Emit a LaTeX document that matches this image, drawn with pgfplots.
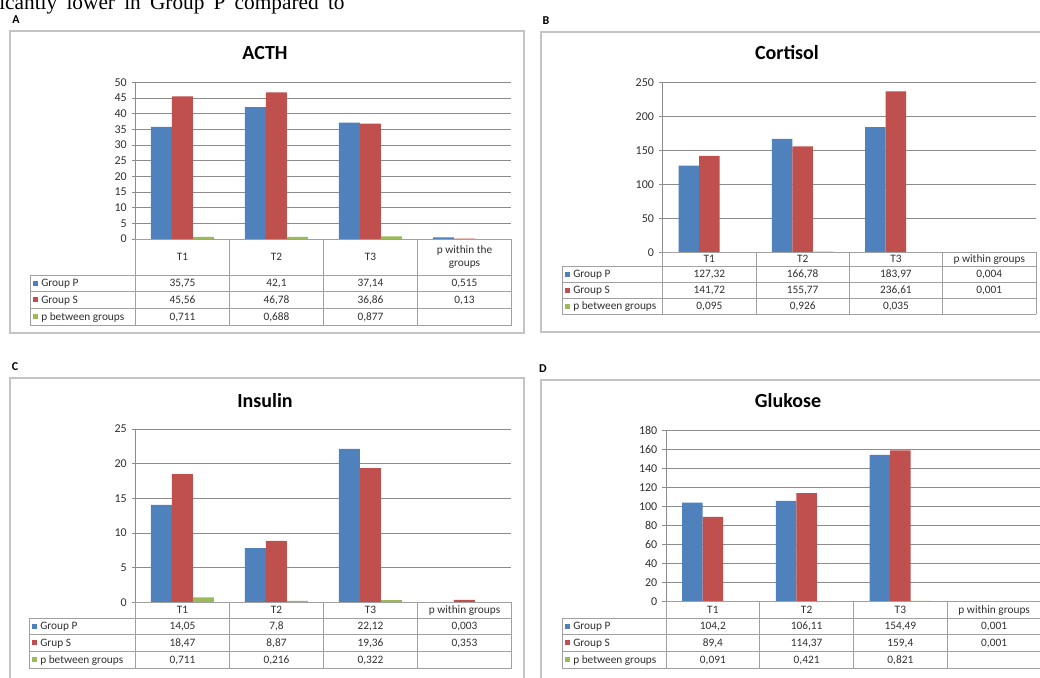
\documentclass[border=0pt]{standalone}
\usepackage{pgfplots}
\pgfplotsset{compat=1.18}
\usepackage{fontspec}
\setmainfont{Carlito}
\newfontfamily\serif{Liberation Serif}
\definecolor{cP}{HTML}{4F81BD}
\definecolor{cS}{HTML}{C0504D}
\definecolor{cB}{HTML}{9BBB59}
\definecolor{gridc}{HTML}{8C8C8C}
\definecolor{boxc}{HTML}{C4C4C4}
\definecolor{tabc}{HTML}{A0A0A0}
\definecolor{txt}{HTML}{303030}
\newcommand{\tabfont}{\fontsize{8.5}{10}\selectfont}

\pgfplotsset{
  panel/.style={
    scale only axis, ybar=0pt, anchor=south west,
    xmin=-0.5, xmax=3.5, ymin=0,
    axis x line=none,
    axis y line*=left,
    y axis line style={-, gridc, line width=0.6pt},
    ymajorgrids, grid style={gridc, line width=0.6pt},
    ytick style={gridc, line width=0.6pt}, major tick length=3pt, tick align=outside,
    xtick=\empty,
    yticklabel style={font=\fontsize{9}{10}\selectfont, text=txt},
    /pgf/number format/assume math mode=true,
    clip=false,
  }
}

% table grid: #1 label-left x, #2 col0 x, #3 col width, #4 top y, #5 header bottom, #6 row1 bottom, #7 row2 bottom, #8 table bottom
\newcommand{\tabgrid}[8]{%
  \draw[tabc, line width=0.6pt] (#2,#4) -- ({#2+4*#3},#4);
  \foreach \k in {0,...,4}{\draw[tabc, line width=0.6pt] ({#2+\k*#3},#4) -- ({#2+\k*#3},#8);}
  \draw[tabc, line width=0.6pt] (#1,#5) -- (#1,#8);
  \foreach \yy in {#5,#6,#7,#8}{\draw[tabc, line width=0.6pt] (#1,\yy) -- ({#2+4*#3},\yy);}
}
% row label: #1 x, #2 y (row centre), #3 colour, #4 text
\newcommand{\rowlab}[4]{%
  \fill[#3] (#1,{#2-2.5}) rectangle ++(5,5);
  \node[anchor=base west, inner sep=0pt, font=\tabfont, text=txt] at ({#1+8},{#2+3.6}) {#4};
}
% row values: #1 col0, #2 colw, #3 y (row centre), #4..#7 texts
\newcommand{\rowvals}[7]{%
  \node[anchor=base, inner sep=0pt, font=\tabfont, text=txt] at ({#1+0.5*#2},{#3+3.6}) {#4};
  \node[anchor=base, inner sep=0pt, font=\tabfont, text=txt] at ({#1+1.5*#2},{#3+3.6}) {#5};
  \node[anchor=base, inner sep=0pt, font=\tabfont, text=txt] at ({#1+2.5*#2},{#3+3.6}) {#6};
  \node[anchor=base, inner sep=0pt, font=\tabfont, text=txt] at ({#1+3.5*#2},{#3+3.6}) {#7};
}

\begin{document}
\begin{tikzpicture}[x=0.75pt,y=-0.75pt]
\useasboundingbox (0,0) rectangle (1040,678);
\clip (0,0) rectangle (1040,678);
\fill[white] (0,0) rectangle (1040,678);

% fragment of body text at the top of the page
\node[anchor=base west, inner sep=0pt] at (-1,9)
  {\makebox[259pt][s]{\serif\fontsize{16}{18}\selectfont icantly lower in Group P compared to}};

% panel frames
\draw[boxc, line width=0.8pt] (10,31) rectangle (524,333);
\draw[boxc, line width=0.8pt] (541,32) rectangle (1060,332);
\draw[boxc, line width=0.8pt] (10,378) rectangle (524,700);
\draw[boxc, line width=0.8pt] (541,380) rectangle (1060,700);

% panel letters
\node[font=\bfseries\fontsize{9}{10}\selectfont] at (16,20) {A};
\node[font=\bfseries\fontsize{9}{10}\selectfont] at (546,21) {B};
\node[font=\bfseries\fontsize{9}{10}\selectfont] at (15,367) {C};
\node[font=\bfseries\fontsize{9}{10}\selectfont] at (543,369) {D};

% titles
\node[font=\bfseries\fontsize{15}{18}\selectfont] at (265,53) {ACTH};
\node[font=\bfseries\fontsize{15}{18}\selectfont] at (787,53) {Cortisol};
\node[font=\bfseries\fontsize{15}{18}\selectfont] at (265,401) {Insulin};
\node[font=\bfseries\fontsize{15}{18}\selectfont] at (788,401) {Glukose};

\coordinate (oA) at (135.5,239);
\coordinate (oB) at (662.7,252.3);
\coordinate (oC) at (135.5,602.3);
\coordinate (oD) at (666,601.7);

% ---------- A: ACTH
\begin{axis}[panel, at={(oA)}, width=282pt, height=117.5pt, ymax=50,
  ytick={0,5,...,50}, bar width=15.75pt]
\addplot[fill=cP, draw=none] coordinates {(0,35.75) (1,42.1) (2,37.14) (3,0.515)};
\addplot[fill=cS, draw=none] coordinates {(0,45.56) (1,46.78) (2,36.86) (3,0.13)};
\addplot[fill=cB, draw=none] coordinates {(0,0.711) (1,0.688) (2,0.877)};
\end{axis}

% ---------- B: Cortisol
\begin{axis}[panel, at={(oB)}, width=279.9pt, height=127.5pt, ymax=250,
  ytick={0,50,...,250}, bar width=15.4pt]
\addplot[fill=cP, draw=none] coordinates {(0,127.32) (1,166.78) (2,183.97) (3,0.004)};
\addplot[fill=cS, draw=none] coordinates {(0,141.72) (1,155.77) (2,236.61) (3,0.001)};
\addplot[fill=cB, draw=none] coordinates {(0,0.095) (1,0.926) (2,0.035)};
\end{axis}

% ---------- C: Insulin
\begin{axis}[panel, at={(oC)}, width=282pt, height=130pt, ymax=25,
  ytick={0,5,...,25}, bar width=15.75pt]
\addplot[fill=cP, draw=none] coordinates {(0,14.05) (1,7.8) (2,22.12) (3,0.003)};
\addplot[fill=cS, draw=none] coordinates {(0,18.47) (1,8.87) (2,19.36) (3,0.353)};
\addplot[fill=cB, draw=none] coordinates {(0,0.711) (1,0.216) (2,0.322)};
\end{axis}

% ---------- D: Glukose
\begin{axis}[panel, at={(oD)}, width=281.25pt, height=128.25pt, ymax=180,
  ytick={0,20,...,180}, bar width=15.4pt]
\addplot[fill=cP, draw=none] coordinates {(0,104.2) (1,106.11) (2,154.49) (3,0.001)};
\addplot[fill=cS, draw=none] coordinates {(0,89.4) (1,114.37) (2,159.4) (3,0.001)};
\addplot[fill=cB, draw=none] coordinates {(0,0.091) (1,0.421) (2,0.821)};
\end{axis}

% ---------- tables
% A
\tabgrid{30}{135.5}{94}{239}{275}{291.5}{308}{325}
\rowvals{135.5}{94}{257}{T1}{T2}{T3}{}
\node[font=\tabfont, text=txt, align=center, inner sep=0pt] at (464.5,257) {p within the\\groups};
\rowlab{33}{283.25}{cP}{Group P}
\rowlab{33}{299.75}{cS}{Group S}
\rowlab{33}{316.5}{cB}{p between groups}
\rowvals{135.5}{94}{283.25}{35,75}{42,1}{37,14}{0,515}
\rowvals{135.5}{94}{299.75}{45,56}{46,78}{36,86}{0,13}
\rowvals{135.5}{94}{316.5}{0,711}{0,688}{0,877}{}

% B
\tabgrid{562}{662.7}{93.3}{252.3}{266}{282}{298}{314}
\rowvals{662.7}{93.3}{259.2}{T1}{T2}{T3}{p within groups}
\rowlab{565}{274}{cP}{Group P}
\rowlab{565}{290}{cS}{Group S}
\rowlab{565}{306}{cB}{p between groups}
\rowvals{662.7}{93.3}{274}{127,32}{166,78}{183,97}{0,004}
\rowvals{662.7}{93.3}{290}{141,72}{155,77}{236,61}{0,001}
\rowvals{662.7}{93.3}{306}{0,095}{0,926}{0,035}{}

% C
\tabgrid{29}{135.5}{94}{602.3}{618}{634.5}{651}{668}
\rowvals{135.5}{94}{610.2}{T1}{T2}{T3}{p within groups}
\rowlab{32}{626.25}{cP}{Group P}
\rowlab{32}{642.75}{cS}{Grup S}
\rowlab{32}{659.5}{cB}{p between groups}
\rowvals{135.5}{94}{626.25}{14,05}{7,8}{22,12}{0,003}
\rowvals{135.5}{94}{642.75}{18,47}{8,87}{19,36}{0,353}
\rowvals{135.5}{94}{659.5}{0,711}{0,216}{0,322}{}

% D
\tabgrid{562}{666}{93.75}{601.7}{618}{634.5}{651}{668}
\rowvals{666}{93.75}{609.9}{T1}{T2}{T3}{p within groups}
\rowlab{565}{626.25}{cP}{Group P}
\rowlab{565}{642.75}{cS}{Group S}
\rowlab{565}{659.5}{cB}{p between groups}
\rowvals{666}{93.75}{626.25}{104,2}{106,11}{154,49}{0,001}
\rowvals{666}{93.75}{642.75}{89,4}{114,37}{159,4}{0,001}
\rowvals{666}{93.75}{659.5}{0,091}{0,421}{0,821}{}
\end{tikzpicture}
\end{document}
